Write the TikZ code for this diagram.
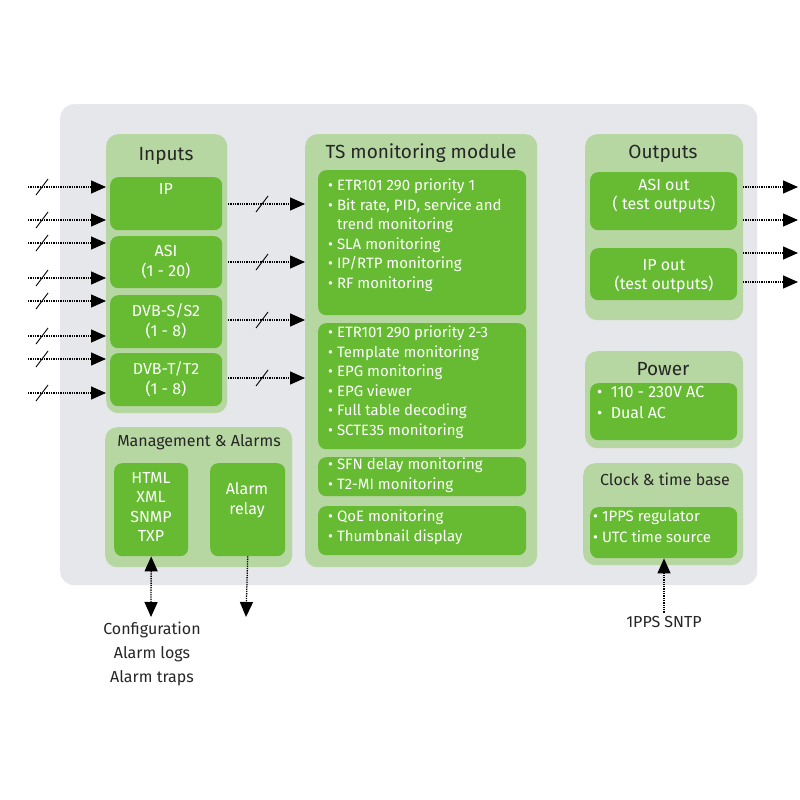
\documentclass[tikz,border=0pt]{standalone}
\usepackage{fontspec}
\setmainfont{Fira Sans}[Scale=1]
\usetikzlibrary{arrows.meta}
\definecolor{gr}{HTML}{66BB33}
\definecolor{lg}{HTML}{B7D7A2}
\definecolor{bg}{HTML}{E6E7EA}
\tikzset{
 x=1pt,y=-1pt,
 panel/.style={fill=lg,draw=none,rounded corners=12pt,anchor=north west,inner sep=0},
 box/.style={fill=gr,draw=none,rounded corners=8pt,anchor=north west,inner sep=0},
 ttl/.style={font=\fontsize{19}{22}\selectfont,text=black!85},
 wt/.style={font=\fontsize{16}{19.5}\selectfont,text=white,align=center},
 lst/.style={font=\fontsize{15}{19.5}\selectfont,text=white,align=left,anchor=north west,inner sep=0},
 bt/.style={font=\fontsize{16}{24}\selectfont,text=black!85,align=center},
 arr/.style={densely dotted,line width=1.3pt,-{Triangle[width=13pt,length=15pt]}},
 barr/.style={densely dotted,line width=1.3pt,{Triangle[width=13pt,length=15pt]}-{Triangle[width=13pt,length=15pt]}},
 sl/.style={line width=0.9pt}
}
\newcommand\myslash[2]{\draw[sl] (#1-6,#2+8) -- (#1+6,#2-8);}
\begin{document}
\begin{tikzpicture}
\useasboundingbox (0,0) rectangle (800,800);
\fill[white] (0,0) rectangle (800,800);
\node[fill=bg,rounded corners=14pt,anchor=north west,inner sep=0,minimum width=697,minimum height=481] (bgr) at (60,104) {};
% Inputs
\node[panel,minimum width=121,minimum height=279] (inp) at (106,134) {};
\node[ttl] (inpt) at (166,156) {Inputs};
\node[box,minimum width=112,minimum height=53] (ip) at (110,177) {};
\node[wt,anchor=north] (ipt) at (166,180) {IP};
\node[box,minimum width=112,minimum height=52] (asi) at (110,236) {};
\node[wt] (asit) at (166,262) {ASI\\(1 - 20)};
\node[box,minimum width=112,minimum height=53] (dvbs) at (110,295) {};
\node[wt] (dvbst) at (166,321) {DVB-S/S2\\(1 - 8)};
\node[box,minimum width=112,minimum height=53] (dvbt) at (110,353) {};
\node[wt] (dvbtt) at (166,379) {DVB-T/T2\\(1 - 8)};
% input arrows
\foreach \y [count=\i] in {187,220,243,278,301,336,359,393}{
  \coordinate (s\i) at (28,\y);
  \coordinate (e\i) at (106,\y);
  \draw[arr] (s\i) -- (e\i);
  \myslash{42}{\y}
}
% TS module
\node[panel,minimum width=232,minimum height=433] (ts) at (305,134) {};
\node[ttl] (tst) at (421,153) {TS monitoring module};
\node[box,minimum width=208,minimum height=145] (t1) at (318,170) {};
\node[lst] (t1t) at (328,179) {\textbullet\ ETR101 290 priority 1\\\textbullet\ Bit rate, PID, service and\\\phantom{\textbullet\ }trend monitoring\\\textbullet\ SLA monitoring\\\textbullet\ IP/RTP monitoring\\\textbullet\ RF monitoring};
\node[box,minimum width=208,minimum height=126] (t2) at (318,323) {};
\node[lst] (t2t) at (328,326) {\textbullet\ ETR101 290 priority 2-3\\\textbullet\ Template monitoring\\\textbullet\ EPG monitoring\\\textbullet\ EPG viewer\\\textbullet\ Full table decoding\\\textbullet\ SCTE35 monitoring};
\node[box,minimum width=208,minimum height=39] (t3) at (318,457) {};
\node[lst] (t3t) at (328,458) {\textbullet\ SFN delay monitoring\\\textbullet\ T2-MI monitoring};
\node[box,minimum width=208,minimum height=49] (t4) at (318,506) {};
\node[lst] (t4t) at (328,510) {\textbullet\ QoE monitoring\\\textbullet\ Thumbnail display};
% input -> ts
\foreach \y [count=\i] in {204,262,320,378}{
  \coordinate (a\i) at (228,\y);
  \coordinate (b\i) at (305,\y);
  \draw[arr] (a\i) -- (b\i);
  \myslash{262}{\y}
}
% Outputs
\node[panel,minimum width=158,minimum height=186] (out) at (585,134) {};
\node[ttl] (outt) at (663,154) {Outputs};
\node[box,minimum width=147,minimum height=58] (ao) at (590,172) {};
\node[wt] (aot) at (664,196) {ASI out\\( test outputs)};
\node[box,minimum width=147,minimum height=52] (io) at (590,248) {};
\node[wt] (iot) at (664,276) {IP out\\(test outputs)};
\foreach \y [count=\i] in {187,220,253,282}{
  \coordinate (o\i) at (743,\y);
  \coordinate (p\i) at (798,\y);
  \draw[arr] (o\i) -- (p\i);
}
% Power
\node[panel,minimum width=158,minimum height=97] (pw) at (585,351) {};
\node[ttl] (pwt) at (663,369) {Power};
\node[box,minimum width=147,minimum height=57] (pwb) at (590,383) {};
\node[lst,font=\fontsize{16}{21}\selectfont] (pwl) at (597,386) {\textbullet\ \ 110 - 230V AC\\\textbullet\ \ Dual AC};
% Clock
\node[panel,minimum width=160,minimum height=102] (ck) at (583,463) {};
\node[ttl,font=\fontsize{16}{19}\selectfont] (ckt) at (665,479) {Clock \& time base};
\node[box,minimum width=147,minimum height=51] (ckb) at (590,507) {};
\node[lst,font=\fontsize{15}{21}\selectfont] (ckl) at (593,510) {\textbullet\ 1PPS regulator\\\textbullet\ UTC time source};
% Management
\node[panel,minimum width=187,minimum height=140] (mg) at (105,427) {};
\node[ttl,font=\fontsize{16}{19}\selectfont] (mgt) at (199,442) {Management \& Alarms};
\node[box,minimum width=74,minimum height=93] (hx) at (114,463) {};
\node[wt] (hxt) at (151,507) {HTML\\XML\\SNMP\\TXP};
\node[box,minimum width=75,minimum height=93] (ar) at (210,463) {};
\node[wt,anchor=north] (art) at (247,479) {Alarm\\relay};
% bottom connectors
\coordinate (c1) at (151,617);
\draw[barr] (hx.south) -- (c1);
\coordinate (c2) at (246,617);
\draw[arr] (ar.south) -- (c2);
\node[bt] (cfg) at (152,654) {Configuration\\Alarm logs\\Alarm traps};
\node[bt] (pps) at (664,622) {1PPS SNTP};
\draw[arr] (pps.north) -- (ckb.south -| pps.north);
\end{tikzpicture}
\end{document}
